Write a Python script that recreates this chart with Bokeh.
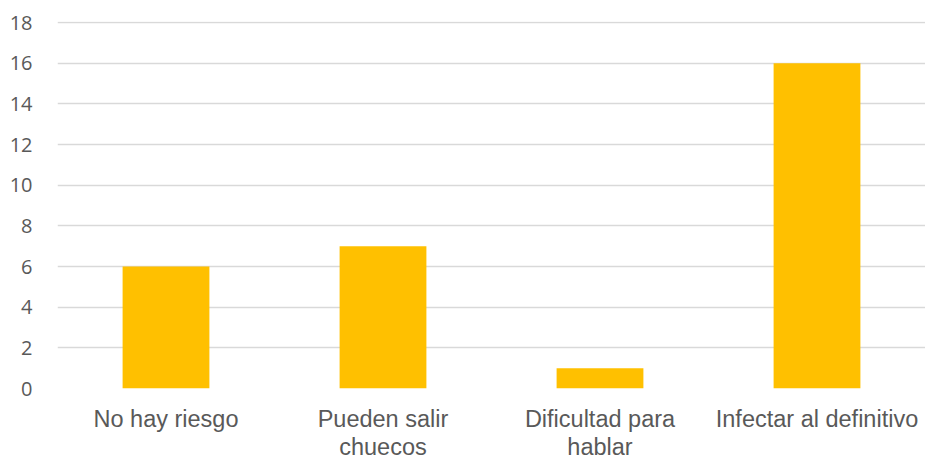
from bokeh.plotting import figure
from bokeh.models import Range1d, FixedTicker
from bokeh.embed import file_html
from bokeh.resources import INLINE

categories = ["No hay riesgo", "Pueden salir\nchuecos", "Dificultad para\nhablar", "Infectar al definitivo"]
values = [6, 7, 1, 16]
y_ticks = [0, 2, 4, 6, 8, 10, 12, 14, 16, 18]

p = figure(x_range=categories, y_range=Range1d(0, 18.05),
           frame_width=868, frame_height=367,
           min_border_left=57, min_border_right=0, min_border_top=21, min_border_bottom=77,
           output_backend="svg", toolbar_location=None)

p.vbar(x=categories, top=values, width=0.4, color="#FFC000", line_color=None)

p.outline_line_color = None
p.xgrid.grid_line_color = None
p.ygrid.grid_line_color = "#D9D9D9"
p.ygrid.grid_line_width = 1.5
p.yaxis.ticker = FixedTicker(ticks=y_ticks)

for ax in (p.xaxis, p.yaxis):
    ax.axis_line_color = None
    ax.major_tick_line_color = None
    ax.minor_tick_line_color = None
    ax.major_label_text_color = "#595959"

p.yaxis.major_label_text_font = "Open Sans"
p.yaxis.major_label_text_font_size = "20px"
p.yaxis.major_label_standoff = 19
p.xaxis.major_label_text_font = "Liberation Sans"
p.xaxis.major_label_text_font_size = "23.5px"
p.xaxis.major_label_text_line_height = 1.1
p.xaxis.major_label_standoff = 11

open("out.html", "w").write(file_html(p, INLINE))
